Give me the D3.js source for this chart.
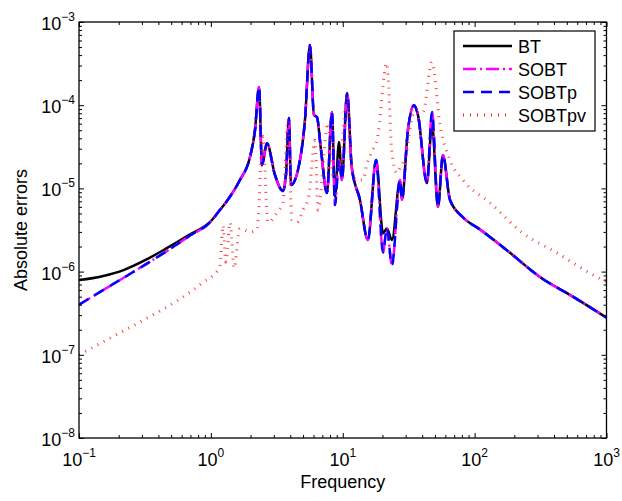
<!DOCTYPE html>
<html>
<head>
<meta charset="utf-8">
<script src="https://cdnjs.cloudflare.com/ajax/libs/d3/7.8.5/d3.min.js"></script>
<style>
  body { margin: 0; background: #fff; }
  text { font-family: "Liberation Sans", Arial, sans-serif; fill: #000; }
</style>
</head>
<body>
<svg id="chart" width="622" height="501"></svg>
<script>
// Frequences et erreurs
const freqBT = [0.1, 0.15, 0.22, 0.32, 0.46, 0.68, 1.0, 1.15, 1.32, 1.66, 1.98, 2.16, 2.32, 2.44, 2.66, 3.06, 3.52, 3.71, 3.91, 4.05, 4.74, 5.17, 5.64, 6.05, 6.37, 6.84, 7.59, 8.28, 8.73, 9.36, 9.86, 10.8, 11.7, 13.5, 15.5, 17.9, 20.2, 21.6, 23.6, 27.2, 28.1, 31.2, 34.7, 37.2, 43.5, 47.5, 52.7, 57.5, 65.0, 81.5, 110, 176, 313, 556, 1000];
const errBT = [7.9e-7, 8.8e-7, 1.05e-6, 1.38e-6, 1.9e-6, 2.75e-6, 4.05e-6, 5.3e-6, 7.0e-6, 1.26e-5, 2.38e-5, 5.0e-5, 1.66e-4, 1.9e-5, 3.5e-5, 1.45e-5, 9.3e-6, 1.45e-5, 7.0e-5, 1.1e-5, 2.2e-5, 6.6e-5, 5.3e-4, 7.6e-5, 7.2e-5, 2.9e-5, 8.8e-6, 8.3e-5, 7.9e-6, 3.6e-5, 1.26e-5, 1.4e-4, 1.8e-5, 7.3e-6, 2.4e-6, 2.2e-5, 2.9e-6, 3.3e-6, 2.4e-6, 1.26e-5, 7.3e-6, 5.0e-5, 1.0e-4, 7.6e-5, 1.16e-5, 6.0e-5, 6.0e-6, 2.5e-5, 7.3e-6, 4.5e-6, 3.2e-6, 1.8e-6, 8.6e-7, 5.0e-7, 2.8e-7];
const errSOBT = [4.0e-7, 5.9e-7, 8.5e-7, 1.22e-6, 1.75e-6, 2.65e-6, 4.0e-6, 5.3e-6, 7.0e-6, 1.26e-5, 2.38e-5, 5.0e-5, 1.66e-4, 1.9e-5, 3.5e-5, 1.45e-5, 9.3e-6, 1.45e-5, 7.0e-5, 1.1e-5, 2.2e-5, 6.6e-5, 5.3e-4, 7.6e-5, 7.2e-5, 2.9e-5, 8.8e-6, 8.3e-5, 6.3e-6, 2.2e-5, 1.26e-5, 1.4e-4, 1.8e-5, 7.3e-6, 2.4e-6, 2.2e-5, 1.7e-6, 3.3e-6, 1.2e-6, 1.26e-5, 7.3e-6, 5.0e-5, 1.0e-4, 7.6e-5, 1.16e-5, 8.3e-5, 6.0e-6, 2.5e-5, 7.3e-6, 4.5e-6, 3.2e-6, 1.8e-6, 8.6e-7, 5.0e-7, 2.8e-7];
const errSOBTp = [4.0e-7, 5.9e-7, 8.5e-7, 1.22e-6, 1.75e-6, 2.65e-6, 4.0e-6, 5.3e-6, 7.0e-6, 1.26e-5, 2.38e-5, 5.0e-5, 1.66e-4, 1.9e-5, 3.5e-5, 1.45e-5, 9.3e-6, 1.45e-5, 7.0e-5, 1.1e-5, 2.2e-5, 6.6e-5, 5.3e-4, 7.6e-5, 7.2e-5, 2.9e-5, 8.8e-6, 8.3e-5, 6.3e-6, 2.2e-5, 1.26e-5, 1.4e-4, 1.8e-5, 7.3e-6, 2.4e-6, 2.2e-5, 1.7e-6, 3.3e-6, 1.2e-6, 1.26e-5, 7.3e-6, 5.0e-5, 1.0e-4, 7.6e-5, 1.16e-5, 8.3e-5, 6.0e-6, 2.5e-5, 7.3e-6, 4.5e-6, 3.2e-6, 1.8e-6, 8.6e-7, 5.0e-7, 2.8e-7];

const freqPV = [0.1, 0.18, 0.32, 0.56, 0.85, 1.17, 1.235, 1.30, 1.40, 1.50, 1.66, 1.98, 2.24, 2.48, 2.71, 3.17, 3.52, 3.84, 4.12, 4.50, 4.99, 5.54, 6.16, 6.49, 7.72, 8.43, 9.5, 10.8, 11.7, 12.8, 14.2, 15.3, 16.9, 18.2, 21.6, 23.6, 25.8, 27.2, 30.7, 33.5, 37.2, 40.5, 47.5, 54.6, 65.0, 81.5, 131, 232, 421, 748, 1000];
const errPV = [1.0e-7, 1.65e-7, 2.7e-7, 4.5e-7, 7.2e-7, 1.14e-6, 3.6e-6, 1.3e-6, 3.9e-6, 1.1e-6, 3.3e-6, 3.0e-6, 3.2e-6, 4.2e-5, 3.9e-6, 5.1e-6, 6.7e-6, 6.6e-5, 4.2e-6, 3.9e-6, 5.5e-6, 8.3e-6, 3.8e-5, 5.5e-6, 6.1e-5, 1.37e-5, 1.9e-5, 1.26e-4, 1.66e-5, 1.26e-5, 1.26e-5, 2.0e-5, 2.9e-5, 3.8e-5, 3.2e-4, 2.7e-5, 1.53e-5, 1.76e-5, 2.9e-5, 7.2e-5, 8.8e-5, 8.3e-5, 3.3e-4, 5.8e-5, 2.2e-5, 1.26e-5, 6.7e-6, 2.9e-6, 1.68e-6, 9.6e-7, 7.5e-7];

const seriesNames = ["BT", "SOBT", "SOBTp", "SOBTpv"];
const xMajor = [0.1, 1, 10, 100, 1000];
const xExp = ["\u22121", "0", "1", "2", "3"];
const yMajor = [1e-8, 1e-7, 1e-6, 1e-5, 1e-4, 1e-3];
const yExp = ["\u22128", "\u22127", "\u22126", "\u22125", "\u22124", "\u22123"];

const svg = d3.select("#chart");
const pL = 79, pR = 606.5, pT = 22, pB = 438;

const x = d3.scaleLog().domain([0.1, 1000]).range([pL, pR]);
const y = d3.scaleLog().domain([1e-8, 1e-3]).range([pB, pT]);

// Styles des courbes
const styles = [
  { f: freqBT, v: errBT, color: "#000000", width: 2.5, dash: null },
  { f: freqBT, v: errSOBT, color: "#ff00ff", width: 2.5, dash: "13,4,2,4" },
  { f: freqBT, v: errSOBTp, color: "#0000ff", width: 2.5, dash: "11,7" },
  { f: freqPV, v: errPV, color: "#ff2020", width: 3, dash: "1,6" }
];

svg.append("defs").append("clipPath").attr("id", "clip")
  .append("rect").attr("x", pL).attr("y", pT)
  .attr("width", pR - pL).attr("height", pB - pT);

const line = d3.line()
  .x((d) => x(d[0]))
  .y((d) => y(d[1]))
  .curve(d3.curveMonotoneX);

const plot = svg.append("g").attr("clip-path", "url(#clip)");
styles.forEach((s) => {
  plot.append("path")
    .datum(s.f.map((f, i) => [f, s.v[i]]))
    .attr("fill", "none")
    .attr("stroke", s.color)
    .attr("stroke-width", s.width)
    .attr("stroke-dasharray", s.dash)
    .attr("stroke-opacity", s.dash === "1,6" ? 0.85 : 1)
    .attr("d", line);
});

// Graduations (toutes vers l'interieur)
const xMinor = x.ticks().filter((t) => !xMajor.some((m) => Math.abs(m - t) / m < 1e-6));
const yMinor = y.ticks().filter((t) => !yMajor.some((m) => Math.abs(m - t) / m < 1e-6));

function addAxis(axisFn, scale, vals, size, tr) {
  const g = svg.append("g").attr("transform", tr)
    .call(axisFn(scale).tickValues(vals).tickSize(size).tickFormat(""));
  g.select(".domain").remove();
  g.selectAll(".tick line").attr("stroke", "#000").attr("stroke-width", 1);
}
addAxis(d3.axisBottom, x, xMinor, -3, `translate(0,${pB})`);
addAxis(d3.axisBottom, x, xMajor, -5, `translate(0,${pB})`);
addAxis(d3.axisTop, x, xMinor, -3, `translate(0,${pT})`);
addAxis(d3.axisTop, x, xMajor, -5, `translate(0,${pT})`);
addAxis(d3.axisLeft, y, yMinor, -3, `translate(${pL},0)`);
addAxis(d3.axisLeft, y, yMajor, -5, `translate(${pL},0)`);
addAxis(d3.axisRight, y, yMinor, -3, `translate(${pR},0)`);
addAxis(d3.axisRight, y, yMajor, -5, `translate(${pR},0)`);

svg.append("rect")
  .attr("x", pL).attr("y", pT)
  .attr("width", pR - pL).attr("height", pB - pT)
  .attr("fill", "none").attr("stroke", "#000").attr("stroke-width", 1.3);

// Etiquettes en puissances de 10
xMajor.forEach((t, i) => {
  const tx = svg.append("text")
    .attr("x", x(t)).attr("y", 466)
    .attr("text-anchor", "middle")
    .attr("font-size", 18);
  tx.append("tspan").text("10");
  tx.append("tspan").attr("font-size", 12).attr("dy", -9).text(xExp[i]);
});
yMajor.forEach((t, i) => {
  const ty = svg.append("text")
    .attr("x", 75).attr("y", y(t) + 8)
    .attr("text-anchor", "end")
    .attr("font-size", 18);
  ty.append("tspan").text("10");
  ty.append("tspan").attr("font-size", 12).attr("dy", -9).text(yExp[i]);
});

svg.append("text")
  .attr("x", (pL + pR) / 2).attr("y", 488)
  .attr("text-anchor", "middle").attr("font-size", 18)
  .text("Frequency");
svg.append("text")
  .attr("transform", `translate(27,${(pT + pB) / 2}) rotate(-90)`)
  .attr("text-anchor", "middle").attr("font-size", 18)
  .text("Absolute errors");

// Legende
const lg = svg.append("g");
lg.append("rect")
  .attr("x", 454).attr("y", 31).attr("width", 141).attr("height", 100)
  .attr("fill", "#fff").attr("stroke", "#000").attr("stroke-width", 1.2);
seriesNames.forEach((name, i) => {
  const ly = 46 + i * 23;
  lg.append("line")
    .attr("x1", 463).attr("x2", 512).attr("y1", ly).attr("y2", ly)
    .attr("stroke", styles[i].color)
    .attr("stroke-width", styles[i].width)
    .attr("stroke-dasharray", styles[i].dash);
  lg.append("text")
    .attr("x", 518).attr("y", ly + 6.5)
    .attr("font-size", 18)
    .text(name);
});
</script>
</body>
</html>
